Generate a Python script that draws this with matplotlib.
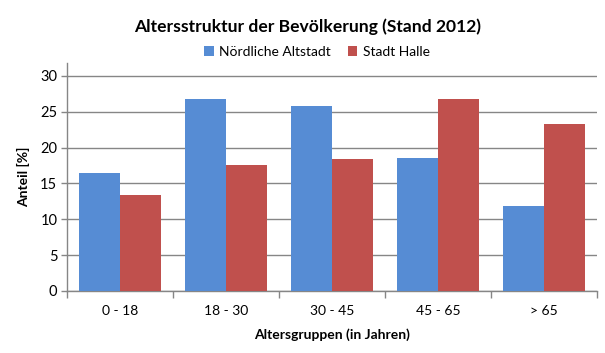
import matplotlib
matplotlib.use("Agg")
import matplotlib.pyplot as plt
import numpy as np

categories = ["0 - 18", "18 - 30", "30 - 45", "45 - 65", "> 65"]
series_names = ["Nördliche Altstadt", "Stadt Halle"]
altstadt = [16.4, 26.8, 25.8, 18.6, 11.9]
halle = [13.4, 17.6, 18.4, 26.8, 23.3]
yticks = [0, 5, 10, 15, 20, 25, 30]

blue = "#568CD4"
red = "#C0504D"
grid = "#868686"

plt.rcParams['font.family'] = ['Lato', 'DejaVu Sans']

fig = plt.figure(figsize=(6.05, 3.53), dpi=100)
ax = fig.add_axes([67/605, 62/353, 530/605, 228/353])

x = np.arange(len(categories))
w = 0.387
ax.bar(x - w/2, altstadt, w, color=blue, label=series_names[0], zorder=3)
ax.bar(x + w/2, halle, w, color=red, label=series_names[1], zorder=3)

ax.set_xlim(-0.5, len(categories) - 0.5)
ax.set_ylim(0, 31.8)
ax.set_yticks(yticks)
ax.set_yticklabels([str(t) for t in yticks], fontsize=10.5, color="#000000")
ax.yaxis.grid(True, color=grid, linewidth=1.0, zorder=0)
ax.set_axisbelow(True)

ax.set_xticks(np.arange(-0.5, len(categories), 1.0))
ax.set_xticklabels([])
ax.set_xticks(x, minor=True)
ax.set_xticklabels(categories, minor=True, fontsize=10)
ax.tick_params(axis='x', which='major', length=5, width=1, color=grid, direction='out')
ax.tick_params(axis='x', which='minor', length=0, pad=10)
ax.tick_params(axis='y', length=4, width=1, color=grid, direction='out', pad=3)

for s in ['top', 'right']:
    ax.spines[s].set_visible(False)
for s in ['left', 'bottom']:
    ax.spines[s].set_color(grid)
    ax.spines[s].set_linewidth(1.0)

ax.set_ylabel("Anteil [%]", fontsize=10, fontweight='bold', labelpad=7)
ax.set_xlabel("Altersgruppen (in Jahren)", fontsize=10, fontweight='bold', labelpad=8)

fig.text(308/605, 1 - 27/353, "Altersstruktur der Bevölkerung (Stand 2012)",
         ha='center', va='center', fontsize=12.6, fontweight='bold')

leg = fig.legend(loc='center', bbox_to_anchor=(317/605, 1 - 52/353), ncol=2,
                 frameon=False, fontsize=10, handlelength=0.7, handleheight=0.7,
                 handletextpad=0.4, columnspacing=1.2)

fig.savefig("out.png", dpi=100)
